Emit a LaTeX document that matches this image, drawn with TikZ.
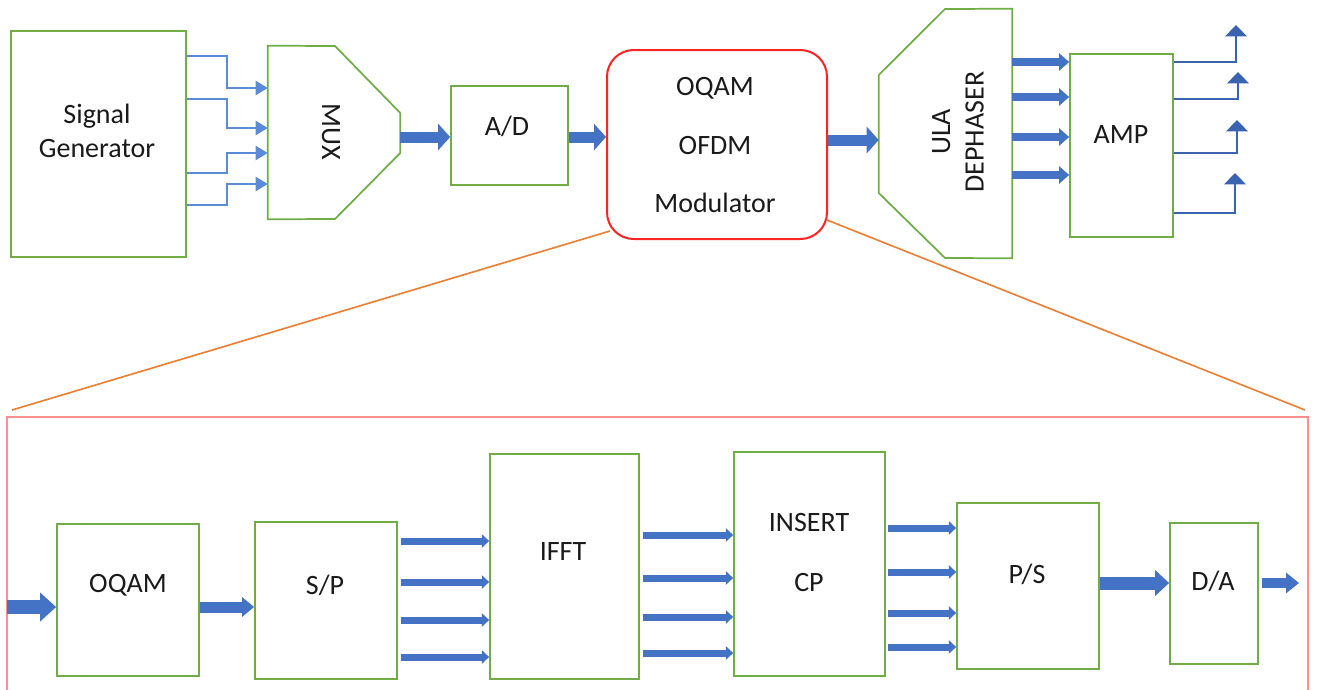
\documentclass[tikz,border=0pt]{standalone}
\usepackage{fontspec}
\setmainfont{Carlito}
\usetikzlibrary{arrows.meta,fit}
\definecolor{gborder}{HTML}{70AD47}
\definecolor{ablue}{HTML}{4472C4}
\definecolor{lblue}{HTML}{5B8BD6}
\definecolor{dblue}{HTML}{3A64B0}
\definecolor{orng}{HTML}{ED7D31}
\definecolor{pinkred}{HTML}{FF9090}
\definecolor{modred}{HTML}{FF2424}
\definecolor{txtc}{HTML}{1A1A1A}
\begin{document}
\begin{tikzpicture}[x=0.75pt,y=-0.75pt,
  box/.style={draw=gborder,line width=1.3pt,inner sep=0pt},
  ghost/.style={inner sep=0pt},
  shapeline/.style={draw=gborder,line width=1.3pt},
  lbl/.style={text=txtc,font=\fontsize{21}{25}\selectfont,inner sep=0pt,align=center},
  fatA/.style={draw=ablue,line width=8.25pt,-{Triangle[width=19.5pt,length=9pt]}},
  fatB/.style={draw=ablue,line width=10.5pt,-{Triangle[width=21pt,length=12pt]}},
  fatC/.style={draw=ablue,line width=8.25pt,-{Triangle[width=14.25pt,length=9pt]}},
  fatD/.style={draw=ablue,line width=9.75pt,-{Triangle[width=18.75pt,length=10.5pt]}},
  fatE/.style={draw=ablue,line width=7.5pt,-{Triangle[width=15pt,length=9.75pt]}},
  midA/.style={draw=ablue,line width=6pt,-{Triangle[width=12.75pt,length=7.5pt]}},
  slim/.style={draw=ablue,line width=5.25pt,-{Triangle[width=10pt,length=5.5pt]}},
  thinA/.style={draw=lblue,line width=1.5pt,-{Triangle[width=10.5pt,length=9pt]}},
  outA/.style={draw=dblue,line width=1.8pt,-{Triangle[width=16pt,length=8.5pt]}},
  zoomline/.style={draw=orng,line width=1.2pt}]
\fill[white] (0,0) rectangle (1317,689);
\useasboundingbox (0,0) rectangle (1317,689);

% ---------- top row ----------
\node[box,fit={(11,31)(186,257)}] (sg) {};
\node[lbl] (sgT) at (97,131) {Signal\\Generator};

\node[ghost,fit={(268,46)(400,219)}] (mux) {};
\draw[shapeline] (mux.north west) -- (335,46) -- (mux.east |- 0,113) -- (mux.east |- 0,153) -- (335,219) -- (mux.south west) -- cycle;
\node[lbl,rotate=-90] (muxT) at (331,132) {MUX};

\node[box,fit={(451,86)(568,185)}] (ad) {};
\node[lbl] (adT) at (507,126) {A/D};

\node[draw=modred,line width=1.5pt,rounded corners=20pt,inner sep=0pt,fit={(607,50)(827,239)}] (mod) {};
\node[lbl] (modT1) at (715,88) {OQAM};
\node[lbl] (modT2) at (715,146) {OFDM};
\node[lbl] (modT3) at (715,203) {Modulator};

\node[ghost,fit={(879,9)(1012,258)}] (ula) {};
\draw[shapeline] (945,9) -- (ula.north east) -- (ula.south east) -- (945,258) -- (ula.west |- 0,193) -- (ula.west |- 0,75) -- cycle;
\node[lbl,rotate=90] (ulaT) at (958,132) {ULA\\DEPHASER};

\node[box,fit={(1070,54)(1173,237)}] (amp) {};
\node[lbl] (ampT) at (1121,135) {AMP};

% signal generator -> mux
\draw[thinA] (sg.east |- 0,56) -- (227,56) |- (mux.west |- 0,88);
\draw[thinA] (sg.east |- 0,99) -- (227,99) |- (mux.west |- 0,128);
\draw[thinA] (sg.east |- 0,173) -- (227,173) |- (mux.west |- 0,153);
\draw[thinA] (sg.east |- 0,205) -- (227,205) |- (mux.west |- 0,184);

\draw[fatA] (mux.east |- 0,137) -- (ad.west |- 0,137);
\draw[fatA] (ad.east |- 0,137) -- (mod.west |- 0,137);
\draw[fatA] (mod.east |- 0,140) -- (ula.west |- 0,140);
\foreach \yy in {62,97,137,175}
  \draw[midA] (ula.east |- 0,\yy) -- (amp.west |- 0,\yy);

\coordinate (o1) at (1236,25);
\coordinate (o2) at (1238,72);
\coordinate (o3) at (1237,120);
\coordinate (o4) at (1235,173);
\draw[outA] (amp.east |- 0,62) -| (o1);
\draw[outA] (amp.east |- 0,99) -| (o2);
\draw[outA] (amp.east |- 0,153) -| (o3);
\draw[outA] (amp.east |- 0,213) -| (o4);

% ---------- zoom lines and frame ----------
\coordinate (modBL) at (610,231);
\coordinate (modBR) at (827,220);
\coordinate (rL) at (12,410);
\coordinate (rR) at (1305,410);
\draw[zoomline] (modBL) -- (rL);
\draw[zoomline] (modBR) -- (rR);
\draw[draw=pinkred,line width=1.2pt] (7,692) -- (7,417) -- (1308,417) -- (1308,692);

% ---------- bottom row ----------
\node[box,fit={(57,524)(199,676)}] (oqam) {};
\node[lbl] (oqamT) at (128,585) {OQAM};
\node[box,fit={(255,522)(397,679)}] (sp) {};
\node[lbl] (spT) at (325,585) {S/P};
\node[box,fit={(490,454)(639,679)}] (ifft) {};
\node[lbl] (ifftT) at (563,552) {IFFT};
\node[box,fit={(734,452)(885,676)}] (ins) {};
\node[lbl] (insT1) at (809,523) {INSERT};
\node[lbl] (insT2) at (809,583) {CP};
\node[box,fit={(957,503)(1099,669)}] (ps) {};
\node[lbl] (psT) at (1027,574) {P/S};
\node[box,fit={(1170,523)(1258,664)}] (da) {};
\node[lbl] (daT) at (1213,581) {D/A};

\coordinate (inS) at (7,607);
\coordinate (outE) at (1299,583);
\draw[fatB] (inS) -- (oqam.west |- 0,607);
\draw[fatC] (oqam.east |- 0,607) -- (sp.west |- 0,607);
\foreach \yy in {541,582,620,657}
  \draw[slim] ([xshift=2.25pt]sp.east |- 0,\yy) -- (ifft.west |- 0,\yy);
\foreach \yy in {535,578,617,653}
  \draw[slim] ([xshift=2.25pt]ifft.east |- 0,\yy) -- (ins.west |- 0,\yy);
\foreach \yy in {528,572,613,647}
  \draw[slim] ([xshift=1.5pt]ins.east |- 0,\yy) -- (ps.west |- 0,\yy);
\draw[fatD] (ps.east |- 0,583) -- (da.west |- 0,583);
\draw[fatE] ([xshift=2.25pt]da.east |- 0,583) -- (outE);
\end{tikzpicture}
\end{document}
